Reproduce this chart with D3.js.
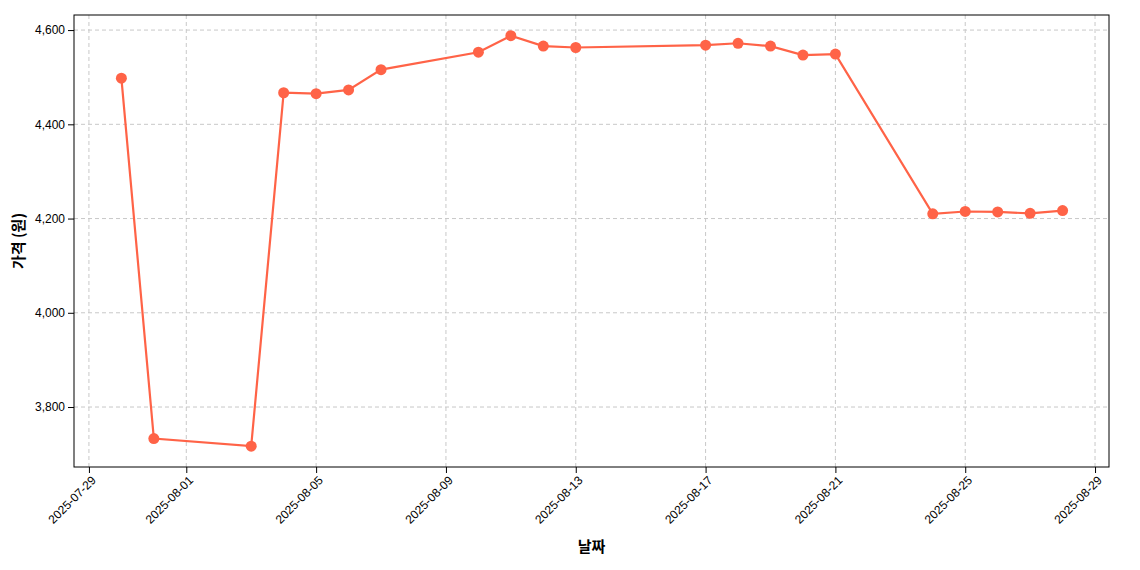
<!DOCTYPE html>
<html><head><meta charset="utf-8">
<script src="https://cdn.jsdelivr.net/npm/d3@7"></script>
<style>body{margin:0;background:#fff;font-family:"Noto Sans CJK KR","Noto Sans",sans-serif;}</style>
</head><body><svg id="c" width="1140" height="570"></svg>
<script>
const dates=["2025-07-30","2025-07-31","2025-08-03","2025-08-04","2025-08-05","2025-08-06","2025-08-07","2025-08-10","2025-08-11","2025-08-12","2025-08-13","2025-08-17","2025-08-18","2025-08-19","2025-08-20","2025-08-21","2025-08-24","2025-08-25","2025-08-26","2025-08-27","2025-08-28"];
const prices=[4498,3733,3717,4467,4465,4473,4516,4553,4588,4566,4563,4568,4572,4566,4547,4549,4210,4215,4214,4211,4217];
const xTicks=["2025-07-29","2025-08-01","2025-08-05","2025-08-09","2025-08-13","2025-08-17","2025-08-21","2025-08-25","2025-08-29"];
const yTicks=[3800,4000,4200,4400,4600];
const P=d3.utcParse("%Y-%m-%d"), F=d3.utcFormat("%Y-%m-%d");
const svg=d3.select("#c"),L=74,R=1109,T=15,B=467;
const day=864e5;
const x=d3.scaleUtc().domain([new Date(+P("2025-07-29")-0.46*day),new Date(+P("2025-08-29")+0.43*day)]).range([L,R]);
const y=d3.scaleLinear().domain([3672.7,4632]).range([B,T]);
const g=svg.append("g");
g.selectAll(".gx").data(xTicks).join("line").attr("x1",d=>x(P(d))).attr("x2",d=>x(P(d))).attr("y1",T).attr("y2",B).attr("stroke","#c8c8c8").attr("stroke-dasharray","4,3");
g.selectAll(".gy").data(yTicks).join("line").attr("y1",d=>y(d)).attr("y2",d=>y(d)).attr("x1",L).attr("x2",R).attr("stroke","#c8c8c8").attr("stroke-dasharray","4,3");
const xa=svg.append("g").attr("transform",`translate(0,${B})`).call(d3.axisBottom(x).tickValues(xTicks.map(P)).tickFormat(F).tickSizeOuter(0));
xa.selectAll("text").attr("transform","rotate(-45)").attr("text-anchor","end").attr("dx","-0.4em").attr("dy","0.5em").style("font-size","12px");
const ya=svg.append("g").attr("transform",`translate(${L},0)`).call(d3.axisLeft(y).tickValues(yTicks).tickSizeOuter(0));
ya.selectAll("text").style("font-size","12px");
svg.selectAll(".domain").remove();
svg.append("rect").attr("x",L).attr("y",T).attr("width",R-L).attr("height",B-T).attr("fill","none").attr("stroke","#000");
const data=dates.map((d,i)=>({d:P(d),v:prices[i]}));
svg.append("path").datum(data).attr("d",d3.line().x(d=>x(d.d)).y(d=>y(d.v))).attr("fill","none").attr("stroke","#ff6347").attr("stroke-width",2.2);
svg.selectAll(".pt").data(data).join("circle").attr("cx",d=>x(d.d)).attr("cy",d=>y(d.v)).attr("r",5.5).attr("fill","#ff6347");
svg.append("text").attr("x",(L+R)/2).attr("y",552).attr("text-anchor","middle").style("font-size","15px").style("font-weight","bold").text("날짜");
svg.append("text").attr("transform",`translate(24,${(T+B)/2}) rotate(-90)`).attr("text-anchor","middle").style("font-size","15px").style("font-weight","bold").text("가격 (원)");
</script></body></html>
